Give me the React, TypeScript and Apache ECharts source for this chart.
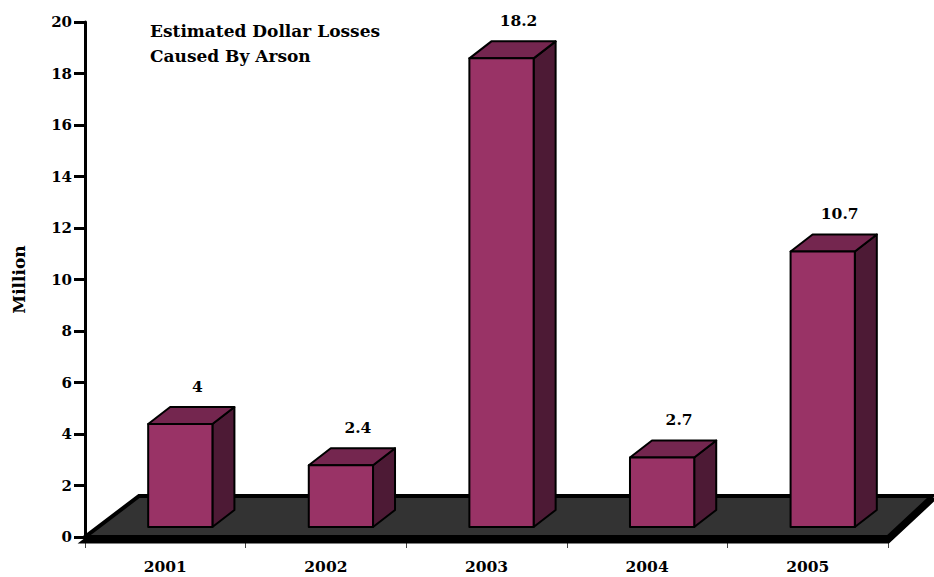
import React, { useEffect, useRef } from 'react';
import * as echarts from 'echarts';

const years = ['2001', '2002', '2003', '2004', '2005'];
const losses = [4, 2.4, 18.2, 2.7, 10.7];
const yMin = 0;
const yMax = 20;
const yStep = 2;
const titleText = 'Estimated Dollar Losses\nCaused By Arson';
const yAxisName = 'Million';

const FONT = '"DejaVu Serif", serif';

export default function App() {
  const ref = useRef<HTMLDivElement>(null);
  useEffect(() => {
    if (!ref.current) return;
    const chart = echarts.init(ref.current, undefined, { renderer: 'svg' });
    const labelStyle = { color: '#000', fontFamily: FONT, fontWeight: 'bold' as const, fontSize: 15 };
    chart.setOption({
      animation: false,
      backgroundColor: '#fff',
      title: {
        text: titleText,
        left: 145,
        top: 13,
        textStyle: { fontFamily: FONT, fontWeight: 'bold', fontSize: 17, lineHeight: 25, color: '#000' },
      },
      grid: { left: 85, right: 46, top: 22, bottom: 40, containLabel: false, outerBoundsMode: 'none' },
      xAxis: {
        type: 'category',
        data: years,
        axisLine: { show: false },
        axisTick: { show: true, length: 11, lineStyle: { color: '#444', width: 1 } },
        axisLabel: { ...labelStyle, fontSize: 15.5, margin: 21 },
        splitLine: { show: false },
      },
      yAxis: {
        type: 'value',
        min: yMin,
        max: yMax,
        interval: yStep,
        name: yAxisName,
        nameLocation: 'middle',
        nameGap: 58,
        nameRotate: 90,
        nameTextStyle: { color: '#000', fontFamily: FONT, fontWeight: 'bold', fontSize: 17 },
        axisLine: { show: true, lineStyle: { color: '#000', width: 3 } },
        axisTick: { show: true, length: 11, lineStyle: { color: '#000', width: 3 } },
        axisLabel: { ...labelStyle, margin: 13 },
        splitLine: { show: false },
      },
      series: [
        {
          type: 'custom',
          z: 1,
          data: [[0, 0]],
          renderItem: (params: any, api: any) => {
            const cs = params.coordSys;
            const x0 = cs.x;
            const x1 = cs.x + cs.width;
            const yb = cs.y + cs.height;
            const pts = [
              [x0, yb],
              [x1, yb],
              [x1 + 44, yb - 41],
              [x0 + 54, yb - 41],
            ];
            const slab = pts.map((p) => [p[0], p[1] + 4]);
            return {
              type: 'group',
              children: [
                { type: 'polygon', shape: { points: slab }, style: { fill: '#000', stroke: '#000', lineWidth: 5 } },
                { type: 'polygon', shape: { points: pts }, style: { fill: '#333333', stroke: '#000', lineWidth: 4 } },
              ],
            };
          },
        },
        {
          type: 'custom',
          z: 3,
          data: losses.map((v, i) => [i, v]),
          renderItem: (params: any, api: any) => {
            const i = api.value(0);
            const v = api.value(1);
            const base = api.coord([i, 0]);
            const top = api.coord([i, v]);
            const bw = api.size([1, 0])[0] * 0.4;
            const cx = base[0] + 15;
            const lift = 10;
            const dx = 22;
            const dy = -17;
            const xl = cx - bw / 2;
            const xr = cx + bw / 2;
            const yb = base[1] - lift;
            const yt = top[1] - lift;
            const stroke = { stroke: '#000', lineWidth: 2, lineJoin: 'round' };
            return {
              type: 'group',
              children: [
                {
                  type: 'polygon',
                  shape: { points: [[xr, yt], [xr + dx, yt + dy], [xr + dx, yb + dy], [xr, yb]] },
                  style: { fill: '#4d1a35', ...stroke },
                },
                {
                  type: 'polygon',
                  shape: { points: [[xl, yt], [xr, yt], [xr + dx, yt + dy], [xl + dx, yt + dy]] },
                  style: { fill: '#74264f', ...stroke },
                },
                {
                  type: 'rect',
                  shape: { x: xl, y: yt, width: bw, height: yb - yt },
                  style: { fill: '#993366', ...stroke },
                },
                {
                  type: 'text',
                  x: cx + 17,
                  y: yt + dy - 21,
                  style: {
                    text: String(v),
                    fill: '#000',
                    fontFamily: FONT,
                    fontWeight: 'bold',
                    fontSize: 15.5,
                    align: 'center',
                    verticalAlign: 'middle',
                  },
                },
              ],
            };
          },
        },
      ],
    });
    return () => chart.dispose();
  }, []);
  return <div ref={ref} style={{ position: 'fixed', left: 0, top: 0, width: 934, height: 577 }} />;
}
